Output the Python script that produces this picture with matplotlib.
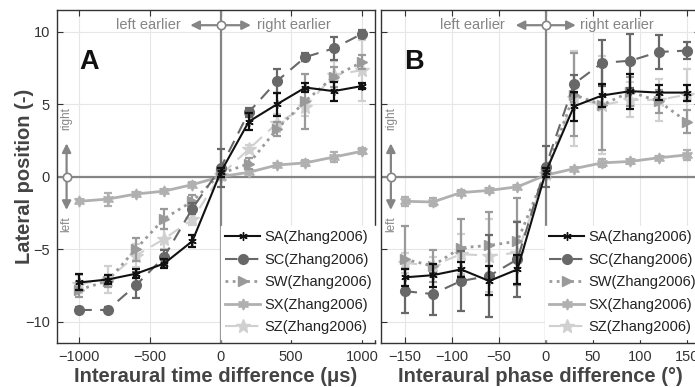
import numpy as np
import matplotlib
matplotlib.use("Agg")
import matplotlib.pyplot as plt

plt.rcParams['font.family'] = ['Liberation Sans', 'DejaVu Sans']

# Panel A: interaural time difference (us)
itd = [-1000, -800, -600, -400, -200, 0, 200, 400, 600, 800, 1000]
sa_itd = [-7.3, -7.1, -6.7, -6.0, -4.45, 0.3, 3.8, 5.0, 6.15, 5.9, 6.25]
sa_itd_err = [0.55, 0.3, 0.3, 0.3, 0.4, 0.3, 0.6, 0.8, 0.3, 0.65, 0.2]
sc_itd = [-9.2, -9.2, -7.5, -5.55, -2.2, 0.6, 4.45, 6.6, 8.25, 8.85, 9.85]
sc_itd_err = [0.2, 0.2, 0.9, 0.5, 0.4, 1.3, 0.3, 0.8, 0.3, 0.8, 0.3]
sw_itd = [-7.8, -7.2, -5.0, -2.9, -1.7, 0.2, 0.9, 3.3, 5.2, 6.9, 7.9]
sw_itd_err = [0.5, 0.4, 0.8, 0.7, 0.4, 0.3, 0.4, 0.5, 1.9, 0.7, 0.5]
sx_itd = [-1.7, -1.55, -1.2, -1.0, -0.55, 0.0, 0.3, 0.8, 0.95, 1.35, 1.75]
sx_itd_err = [0.15, 0.45, 0.15, 0.15, 0.15, 0.1, 0.15, 0.15, 0.2, 0.35, 0.2]
sz_itd = [-7.4, -7.1, -5.45, -4.3, -2.95, 0.1, 1.9, 3.7, 4.8, 7.0, 7.35]
sz_itd_err = [0.6, 0.9, 0.8, 0.7, 0.4, 0.3, 0.3, 0.6, 0.6, 1.0, 2.1]

# Panel B: interaural phase difference (deg)
ipd = [-150, -120, -90, -60, -30, 0, 30, 60, 90, 120, 150]
sa_ipd = [-6.95, -6.8, -6.4, -7.2, -6.4, 0.3, 4.85, 5.6, 5.9, 5.8, 5.8]
sa_ipd_err = [0.6, 0.8, 0.5, 1.0, 1.0, 0.3, 1.0, 0.8, 1.2, 0.5, 0.55]
sc_ipd = [-7.9, -8.1, -7.2, -6.85, -5.7, 0.7, 6.4, 7.85, 8.0, 8.6, 8.7]
sc_ipd_err = [1.5, 1.45, 2.1, 2.85, 2.6, 1.4, 0.6, 1.6, 1.85, 1.2, 0.6]
sw_ipd = [-5.7, -6.15, -4.9, -4.75, -4.45, 0.3, 5.65, 4.95, 5.85, 5.2, 3.8]
sw_ipd_err = [2.3, 1.1, 1.95, 2.3, 3.0, 0.3, 2.85, 3.1, 1.0, 0.8, 0.8]
sx_ipd = [-1.7, -1.75, -1.1, -0.95, -0.7, 0.1, 0.55, 0.95, 1.05, 1.3, 1.5]
sx_ipd_err = [0.3, 0.3, 0.15, 0.15, 0.15, 0.1, 0.15, 0.25, 0.15, 0.15, 0.35]
sz_ipd = [-5.95, -6.15, -5.35, -5.45, -5.25, 0.2, 5.4, 4.95, 5.3, 5.3, 5.65]
sz_ipd_err = [0.7, 0.6, 1.4, 2.5, 2.2, 0.3, 3.3, 3.4, 1.2, 1.45, 1.8]

labels = ["SA(Zhang2006)", "SC(Zhang2006)", "SW(Zhang2006)",
          "SX(Zhang2006)", "SZ(Zhang2006)"]

# style per listener: colour, linestyle, marker, marker size, line width
styles = [
    ("#111111", "-", (6, 2, 0), 6, 1.5),
    ("#686868", (0, (6, 4)), "o", 7, 1.5),
    ("#9a9a9a", (0, (1, 1.6)), ">", 7, 2.0),
    ("#b0b0b0", "-", (6, 1, 0), 8, 2.0),
    ("#d0d0d0", (0, (6, 4)), "*", 10, 1.5),
]

gray = "#858585"


def draw_panel(ax, x, series, errs, xlim, xticks, letter, harrow, htext):
    ax.set_xlim(xlim)
    ax.set_ylim(-11.5, 11.5)
    ax.set_xticks(xticks)
    ax.set_yticks([-10, -5, 0, 5, 10])
    ax.grid(True, color="#e6e6e6", lw=0.8, zorder=0)
    ax.set_axisbelow(True)
    ax.axhline(0, color=gray, lw=1.6, zorder=1)
    ax.axvline(0, color=gray, lw=1.6, zorder=1)

    zs = [8, 7, 6, 5, 4]
    for y, e, st, lab, z in zip(series, errs, styles, labels, zs):
        c, ls, mk, ms, lw = st
        ax.errorbar(x, y, yerr=e, fmt="none", ecolor=c, elinewidth=1.6,
                    capsize=3, capthick=1.6, zorder=z)
        ax.plot(x, y, color=c, ls=ls, lw=lw, marker=mk, ms=ms,
                mfc=c, mec=c, label=lab, zorder=z + 0.5)

    for sp in ax.spines.values():
        sp.set_color("#333333")
        sp.set_linewidth(1.0)
    ax.tick_params(direction="in", length=4, width=0.8, top=True, right=True,
                   colors="#333333", labelsize=10.5, pad=5)

    ax.text(0.072, 0.845, letter, transform=ax.transAxes, fontsize=19.5,
            fontweight="bold", color="#111111", ha="left", va="center")

    # left earlier / right earlier
    yt = 10.45
    ap = dict(arrowstyle="-|>", color=gray, lw=1.6, mutation_scale=13,
              shrinkA=3, shrinkB=0)
    ax.annotate("", xy=(-harrow, yt), xytext=(0, yt), arrowprops=ap, zorder=9)
    ax.annotate("", xy=(harrow, yt), xytext=(0, yt), arrowprops=ap, zorder=9)
    ax.plot([0], [yt], marker="o", ms=6, mfc="white", mec=gray, mew=1.2,
            zorder=10, clip_on=False)
    ax.text(-htext[0], yt, "left earlier", color=gray, fontsize=10.5,
            ha="right", va="center")
    ax.text(htext[1], yt, "right earlier", color=gray, fontsize=10.5,
            ha="left", va="center")

    # right / left along the y axis
    bl = ("axes fraction", "data")
    xf = 0.031
    ax.annotate("", xy=(xf, 2.3), xycoords=bl, xytext=(xf, 0), textcoords=bl,
                arrowprops=ap, zorder=9)
    ax.annotate("", xy=(xf, -2.3), xycoords=bl, xytext=(xf, 0), textcoords=bl,
                arrowprops=ap, zorder=9)
    ax.plot([xf], [0], marker="o", ms=6, mfc="white", mec=gray, mew=1.2,
            transform=ax.get_yaxis_transform(), zorder=10, clip_on=False)
    ax.text(xf, 3.25, "right", transform=ax.get_yaxis_transform(), color=gray,
            fontsize=8.5, rotation=90, ha="center", va="bottom")
    ax.text(xf, -2.75, "left", transform=ax.get_yaxis_transform(), color=gray,
            fontsize=8.5, rotation=90, ha="center", va="top")

    leg = ax.legend(loc="lower left", bbox_to_anchor=(0.515, 0.014),
                    frameon=True, fontsize=10.5, handlelength=2.4,
                    handletextpad=0.3, labelspacing=0.58, borderpad=0.3,
                    borderaxespad=0.0, fancybox=False)
    leg.get_frame().set_edgecolor("white")
    leg.get_frame().set_facecolor("white")
    leg.get_frame().set_alpha(1.0)
    for t in leg.get_texts():
        t.set_color("#222222")
    leg.set_zorder(12)


fig = plt.figure(figsize=(6.95, 3.87), dpi=100)
ax1 = fig.add_axes([0.0816, 0.1129, 0.4584, 0.8613])
ax2 = fig.add_axes([0.5482, 0.1129, 0.4584, 0.8613])

draw_panel(ax1, itd, [sa_itd, sc_itd, sw_itd, sx_itd, sz_itd],
           [sa_itd_err, sc_itd_err, sw_itd_err, sx_itd_err, sz_itd_err],
           (-1160, 1095), [-1000, -500, 0, 500, 1000], "A", 215, (285, 255))
draw_panel(ax2, ipd, [sa_ipd, sc_ipd, sw_ipd, sx_ipd, sz_ipd],
           [sa_ipd_err, sc_ipd_err, sw_ipd_err, sx_ipd_err, sz_ipd_err],
           (-175, 163.5), [-150, -100, -50, 0, 50, 100, 150], "B", 32, (43, 36))

ax2.tick_params(labelleft=False)

ax1.set_ylabel("Lateral position (-)", fontsize=14.5, fontweight="bold",
               color="#444444")
ax1.yaxis.set_label_coords(-0.072, 0.5)
ax1.set_xlabel("Interaural time difference (\u03bcs)", fontsize=14.5,
               fontweight="bold", color="#444444", labelpad=2)
ax2.set_xlabel("Interaural phase difference (\u00b0)", fontsize=14.5,
               fontweight="bold", color="#444444", labelpad=2)

plt.savefig("out.png", dpi=100)
